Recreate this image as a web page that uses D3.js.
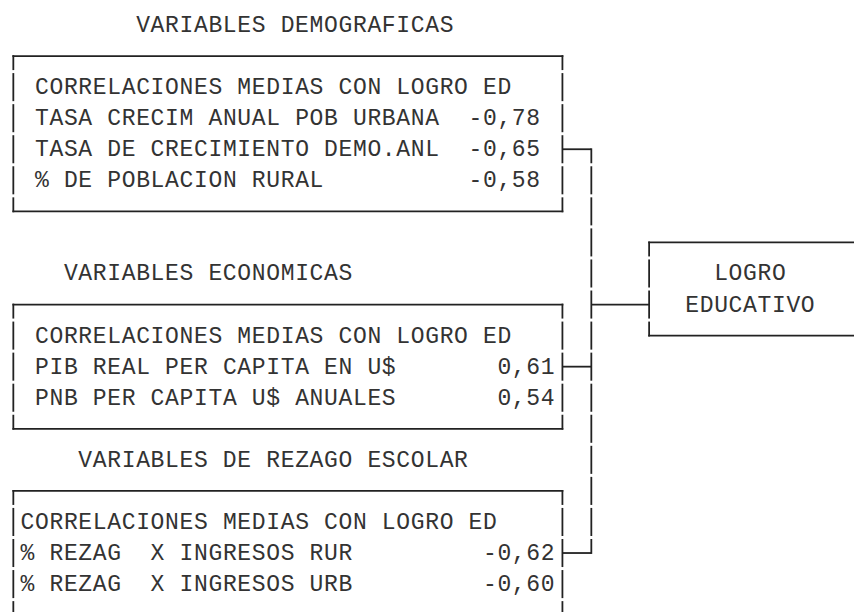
<!DOCTYPE html>
<html>
<head>
<meta charset="utf-8">
<script src="https://cdn.jsdelivr.net/npm/d3@7"></script>
<style>
  body { margin: 0; background: #fff; }
  svg text { font-family: "Liberation Mono", "Courier New", monospace; white-space: pre; }
</style>
</head>
<body>
<svg></svg>
<script>
// text data
var titles = ["VARIABLES DEMOGRAFICAS", "VARIABLES ECONOMICAS", "VARIABLES DE REZAGO ESCOLAR"];
var header = "CORRELACIONES MEDIAS CON LOGRO ED";
var demoLabels = ["TASA CRECIM ANUAL POB URBANA", "TASA DE CRECIMIENTO DEMO.ANL", "% DE POBLACION RURAL"];
var demoValues = [-0.78, -0.65, -0.58];
var econLabels = ["PIB REAL PER CAPITA EN U$", "PNB PER CAPITA U$ ANUALES"];
var econValues = [0.61, 0.54];
var rezLabels = ["% REZAG  X INGRESOS RUR", "% REZAG  X INGRESOS URB"];
var rezValues = [-0.62, -0.60];
var targetLines = ["LOGRO", "EDUCATIVO"];

var svgWidth = 854, svgHeight = 612;
var ink = "#333", lineInk = "#222";

var svg = d3.select("svg")
    .attr("width", svgWidth)
    .attr("height", svgHeight);

// character grid: column -> x (left edge), line -> y (baseline)
var cw = 14.45, lh = 31.06;
var x = d3.scaleLinear().domain([0, 1]).range([6.1, 6.1 + cw]);
var y = d3.scaleLinear().domain([0, 1]).range([32, 32 + lh]);
var cx = function (c) { return x(c + 0.5); };   // centre of a column
var my = function (l) { return y(l) - 7; };      // middle of a line cell

var fmt = d3.formatLocale({ decimal: ",", thousands: ".", grouping: [3], currency: ["", ""], minus: "-" }).format(".2f");

// layout of each group on the grid
var groups = [
    { title: titles[0], labels: demoLabels, values: demoValues, titleLine: 0, titleCol: 9, top: 1, bottom: 6, textCol: 2, valEnd: 36, link: 1 },
    { title: titles[1], labels: econLabels, values: econValues, titleLine: 8, titleCol: 4, top: 9, bottom: 13, textCol: 2, valEnd: 37, link: 0 },
    { title: titles[2], labels: rezLabels, values: rezValues, titleLine: 14, titleCol: 5, top: 15, bottom: 20, textCol: 1, valEnd: 37, link: 0 }
];
var boxLeft = 0, boxRight = 38, busCol = 40, targetCol = 44;
var target = { top: 7, bottom: 10, line: 9, textLines: [8, 9], textCols: [49, 47] };

var fontSize = 23;
var spacing = cw - 0.6 * fontSize; // keep the 14.45px grid

function addText(str, col, line) {
    svg.append("text")
        .attr("x", x(col))
        .attr("y", y(line))
        .attr("font-size", fontSize)
        .attr("letter-spacing", spacing)
        .attr("fill", ink)
        .text(str);
}

function hLine(c1, c2, line) {
    svg.append("line")
        .attr("x1", c1).attr("x2", c2)
        .attr("y1", my(line)).attr("y2", my(line))
        .attr("stroke", lineInk).attr("stroke-width", 1.8);
}

// vertical edge drawn cell by cell, with the small gaps of box characters
function vLine(col, from, to) {
    var cells = d3.range(from, to + 1);
    svg.append("g").selectAll("line")
        .data(cells)
        .enter()
        .append("line")
        .attr("x1", cx(col)).attr("x2", cx(col))
        .attr("y1", function (l) { return l === from ? my(l) - 0.9 : my(l) - lh / 2 + 1.5; })
        .attr("y2", function (l) { return l === to ? my(l) + 0.9 : my(l) + lh / 2 - 1.5; })
        .attr("stroke", lineInk).attr("stroke-width", 1.8);
}

groups.forEach(function (g) {
    addText(g.title, g.titleCol, g.titleLine);

    // box
    hLine(cx(boxLeft) - 0.9, cx(boxRight) + 0.9, g.top);
    hLine(cx(boxLeft) - 0.9, cx(boxRight) + 0.9, g.bottom);
    vLine(boxLeft, g.top, g.bottom);
    vLine(boxRight, g.top, g.bottom);

    // rows
    addText(header, g.textCol, g.top + 1);
    g.labels.forEach(function (lab, i) {
        var line = g.top + 2 + i;
        addText(lab, g.textCol, line);
        var v = fmt(g.values[i]);
        addText(v, g.valEnd - v.length + 1, line);
    });

    // link to the bus
    hLine(cx(boxRight), cx(busCol), g.top + 2 + g.link);
});

// vertical bus from first to last link
vLine(busCol, groups[0].top + 2 + groups[0].link, groups[2].top + 2 + groups[2].link);
hLine(cx(busCol), cx(targetCol), target.line);

// target box (runs off the right edge)
hLine(cx(targetCol) - 0.9, svgWidth + 10, target.top);
hLine(cx(targetCol) - 0.9, svgWidth + 10, target.bottom);
vLine(targetCol, target.top, target.bottom);
targetLines.forEach(function (t, i) {
    addText(t, target.textCols[i], target.textLines[i]);
});
</script>
</body>
</html>
